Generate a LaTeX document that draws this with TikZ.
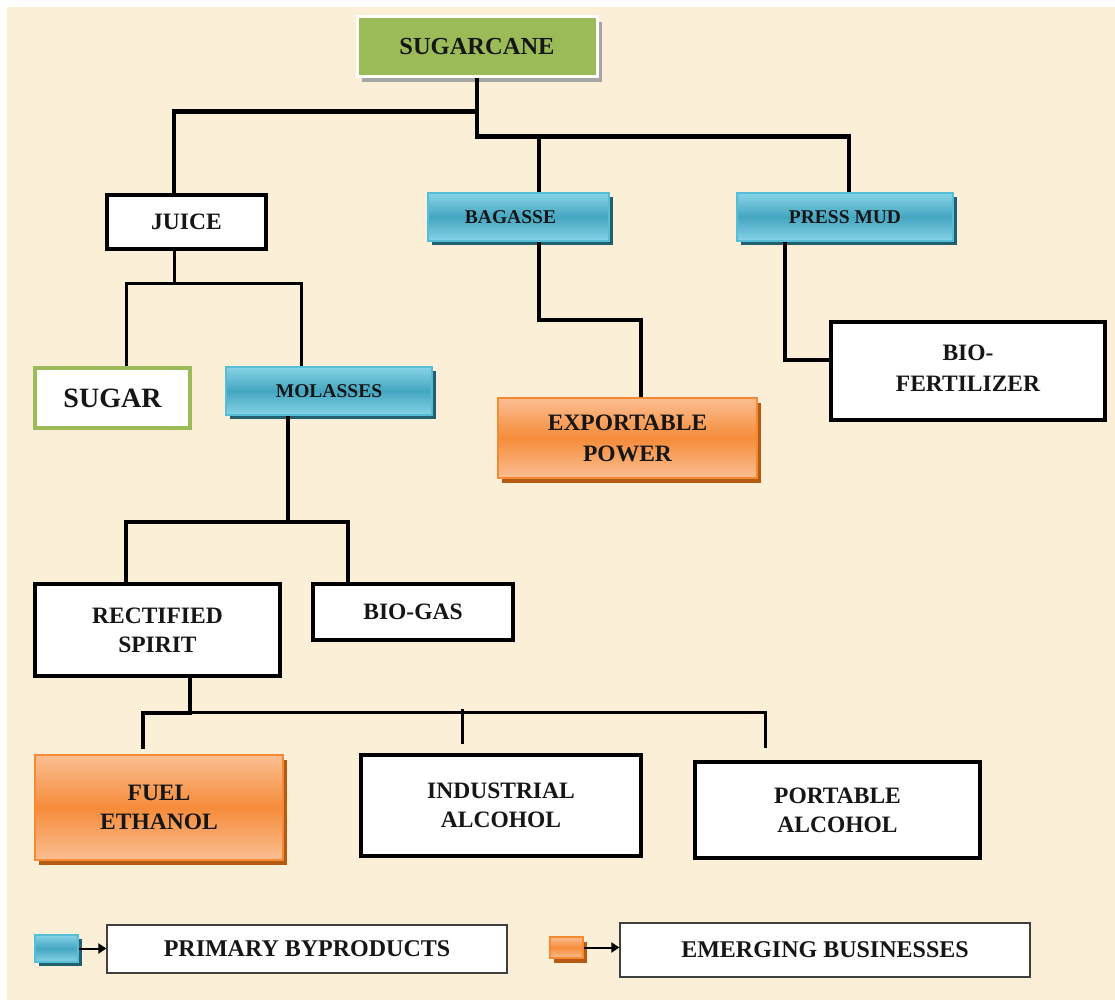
\documentclass[tikz,border=0pt]{standalone}
\usepackage{fontspec}
\setmainfont{Liberation Serif}
\usetikzlibrary{shadows,arrows.meta}

\definecolor{paper}{HTML}{FCEFD8}
\definecolor{canegreen}{HTML}{9BBB59}
\definecolor{bluemid}{HTML}{45A6C1}
\definecolor{bluelight}{HTML}{86D3E6}
\definecolor{blueedge}{HTML}{56BDD7}
\definecolor{blueshade}{HTML}{23606F}
\definecolor{orgmid}{HTML}{F58C3A}
\definecolor{orglight}{HTML}{FBBE92}
\definecolor{orgedge}{HTML}{F58A33}
\definecolor{orgshade}{HTML}{B55A12}
\definecolor{inkdark}{HTML}{161616}

\tikzset{
  box/.style={rectangle, inner sep=0pt, align=center, text=inkdark,
    font=\bfseries\fontsize{23.5}{29}\selectfont},
  plainbox/.style={box, fill=white, draw=black, line width=3.5pt},
  bluebox/.style={box, draw=blueedge, line width=1.5pt,
    top color=bluelight, bottom color=bluelight, middle color=bluemid,
    drop shadow={shadow xshift=4pt, shadow yshift=-4pt, fill=blueshade, opacity=1},
    font=\bfseries\fontsize{19.5}{23}\selectfont},
  orangebox/.style={box, draw=orgedge, line width=1.5pt,
    top color=orglight, bottom color=orglight, middle color=orgmid,
    drop shadow={shadow xshift=4pt, shadow yshift=-5pt, fill=orgshade, opacity=1}},
  canebox/.style={box, fill=canegreen, draw=white!95!paper, line width=3pt,
    drop shadow={shadow xshift=5pt, shadow yshift=-5pt, fill=black!35, opacity=1},
    font=\bfseries\fontsize{24.5}{28}\selectfont},
  sugarbox/.style={box, fill=white, draw=canegreen, line width=3.5pt,
    font=\bfseries\fontsize{28}{32}\selectfont},
  keybox/.style={box, fill=white, draw=black!75, line width=1.3pt,
    font=\bfseries\fontsize{24}{28}\selectfont},
  link/.style={draw=black, line width=4.5pt},
  midlink/.style={draw=black, line width=4pt},
  thinlink/.style={draw=black, line width=3pt},
  keyarrow/.style={draw=black, line width=2pt, -{Triangle[length=8pt,width=10pt]}},
}

\begin{document}
\begin{tikzpicture}[x=1pt, y=-1pt]
  % sheet
  \useasboundingbox (0,0) rectangle (1115,1000);
  \fill[white] (0,0) rectangle (1115,1000);
  \fill[paper] (7,7) rectangle (1115,1000);

  % products
  \node[canebox, minimum width=240pt, minimum height=60pt] (cane) at (477,47) {SUGARCANE};
  \node[plainbox, minimum width=159pt, minimum height=54pt] (juice) at (186.5,222) {JUICE};
  \node[bluebox, minimum width=181pt, minimum height=48pt] (bag) at (518.5,217) {\hspace*{-16pt}BAGASSE};
  \node[bluebox, minimum width=216pt, minimum height=48pt] (press) at (845,217) {PRESS MUD};
  \node[sugarbox, minimum width=155pt, minimum height=60pt] (sugar) at (112.5,398) {SUGAR};
  \node[bluebox, minimum width=206pt, minimum height=48pt] (mol) at (329,391) {MOLASSES};
  \node[orangebox, minimum width=259pt, minimum height=80pt] (exp) at (627.5,438) {\raisebox{-4pt}{\shortstack{EXPORTABLE\\[12pt]POWER}}};
  \node[plainbox, minimum width=274pt, minimum height=98pt] (bio) at (968,371) {\raisebox{6pt}{\shortstack{BIO-\\[12pt]FERTILIZER}}};
  \node[plainbox, minimum width=245pt, minimum height=92pt] (rect) at (157.5,630) {RECTIFIED\\SPIRIT};
  \node[plainbox, minimum width=200pt, minimum height=56pt] (gas) at (413,612) {BIO-GAS};
  \node[orangebox, minimum width=248pt, minimum height=105pt] (fuel) at (159,807.5) {FUEL\\ETHANOL};
  \node[plainbox, minimum width=280pt, minimum height=101pt] (ind) at (501,805.5) {INDUSTRIAL\\ALCOHOL};
  \node[plainbox, minimum width=285pt, minimum height=96pt] (port) at (837.5,810) {PORTABLE\\ALCOHOL};

  % connectors
  \draw[link] (cane.south) -- ++(0,33) -| ([xshift=-12.5pt]juice.north);
  \draw[link] (cane.south) -- ++(0,58) -| ([xshift=4pt]press.north);
  \draw[link] ([xshift=20.5pt]bag.north) -- ++(0,-58);

  \draw[thinlink] ([xshift=-12.5pt]juice.south) -- ++(0,33) coordinate (jj);
  \draw[thinlink] ([xshift=13.5pt]sugar.north) |- (jj) -| ([xshift=-28pt]mol.north);

  \draw[link] ([xshift=20.5pt]bag.south) -- ++(0,78) -| ([xshift=13.5pt]exp.north);
  \draw[link] ([xshift=-60pt]press.south) |- ([yshift=11pt]bio.west);

  \draw[midlink] ([xshift=-41pt]mol.south) -- ++(0,106) coordinate (mj);
  \draw[midlink] ([xshift=-31.5pt]rect.north) |- (mj) -| ([xshift=-65pt]gas.north);

  \draw[link] ([xshift=32.5pt]rect.south) -- ++(0,35) coordinate (rj)
    -| ([xshift=-16pt,yshift=5pt]fuel.north);
  \draw[thinlink] (rj) -| ([xshift=-72.5pt,yshift=12pt]port.north);
  \draw[thinlink] ([xshift=-39pt,yshift=9pt]ind.north) -- ++(0,-35);

  % key
  \node[bluebox, minimum width=43pt, minimum height=27pt] (kblue) at (56.5,948.5) {};
  \node[keybox, minimum width=400pt, minimum height=48pt] (kprim) at (307,949) {PRIMARY BYPRODUCTS};
  \node[orangebox, minimum width=33pt, minimum height=21pt] (korange) at (566.5,947.5) {};
  \node[keybox, minimum width=410pt, minimum height=54pt] (kemerg) at (825,950) {EMERGING BUSINESSES};
  \draw[keyarrow] (kblue.east) -- (kblue.east -| kprim.west);
  \draw[keyarrow] (korange.east) -- (korange.east -| kemerg.west);
\end{tikzpicture}
\end{document}
